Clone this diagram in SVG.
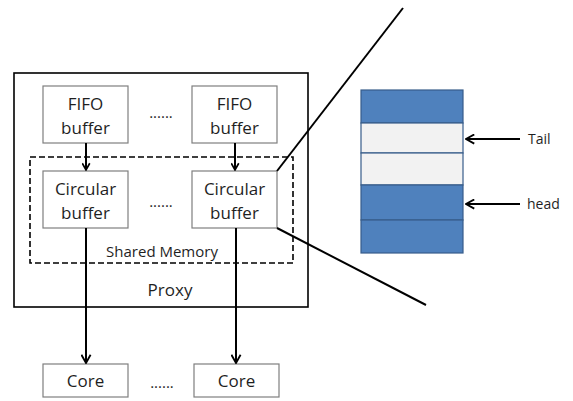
<svg xmlns="http://www.w3.org/2000/svg" width="573" height="401" viewBox="0 0 573 401">
<defs>
<style>
.box{fill:#fff;stroke:#7f7f7f;stroke-width:1.2}
.t{font-family:"Open Sans","Liberation Sans",sans-serif;font-size:17px;fill:#1f1f1f;text-anchor:middle}
.s{font-family:"Open Sans","Liberation Sans",sans-serif;font-size:14px;fill:#1f1f1f}
.ln{stroke:#000;stroke-width:2;fill:none}
.blue{fill:#4f81bd;stroke:#385d8a;stroke-width:1.2}
.light{fill:#f2f2f2;stroke:#385d8a;stroke-width:1.2}
</style>
<marker id="ah" viewBox="0 0 12 12" refX="11" refY="6" markerWidth="9" markerHeight="9" orient="auto" markerUnits="userSpaceOnUse">
<path d="M2,1 L11,6 L2,11" fill="none" stroke="#000" stroke-width="2.2"/>
</marker>
<marker id="ah2" viewBox="0 0 12 12" refX="11" refY="6" markerWidth="11" markerHeight="11" orient="auto" markerUnits="userSpaceOnUse">
<path d="M2,1 L11,6 L2,11" fill="none" stroke="#000" stroke-width="2"/>
</marker>
</defs>
<rect width="573" height="401" fill="#fff"/>
<g id="proxy">
<rect x="14" y="73" width="294" height="234" fill="none" stroke="#000" stroke-width="1.6"/>
<text class="t" x="170" y="296">Proxy</text>
</g>
<g id="shared-memory">
<rect x="30" y="157" width="263" height="106" fill="none" stroke="#000" stroke-width="1.6" stroke-dasharray="6,3"/>
<text class="t" x="162" y="257" style="font-size:15px">Shared Memory</text>
</g>
<g id="fifo1"><rect class="box" x="43" y="86" width="85" height="57"/><text class="t" x="85.5" y="110">FIFO</text><text class="t" x="85.5" y="134">buffer</text></g>
<g id="fifo2"><rect class="box" x="192" y="86" width="85" height="57"/><text class="t" x="234.5" y="110">FIFO</text><text class="t" x="234.5" y="134">buffer</text></g>
<g id="circ1"><rect class="box" x="43" y="171" width="85" height="57"/><text class="t" x="85.5" y="195">Circular</text><text class="t" x="85.5" y="219">buffer</text></g>
<g id="circ2"><rect class="box" x="192" y="171" width="85" height="57"/><text class="t" x="234.5" y="195">Circular</text><text class="t" x="234.5" y="219">buffer</text></g>
<g id="core1"><rect class="box" x="43" y="364" width="85" height="33"/><text class="t" x="85.5" y="387">Core</text></g>
<g id="core2"><rect class="box" x="194" y="364" width="85" height="33"/><text class="t" x="236.5" y="387">Core</text></g>
<g id="dots">
<text class="t" x="161" y="118" style="font-size:15px">......</text>
<text class="t" x="161" y="207" style="font-size:15px">......</text>
<text class="t" x="162" y="388" style="font-size:15px">......</text>
</g>
<g id="ring-buffer">
<rect class="blue" x="361" y="90" width="102" height="33"/>
<rect class="light" x="361" y="123" width="102" height="30"/>
<rect class="light" x="361" y="153" width="102" height="32"/>
<rect class="blue" x="361" y="185" width="102" height="35"/>
<rect class="blue" x="361" y="220" width="102" height="33"/>
</g>
<g id="labels">
<text class="s" x="528" y="144">Tail</text>
<text class="s" x="527" y="209">head</text>
</g>
<g id="connectors">
<line class="ln" x1="86" y1="143" x2="86" y2="170" marker-end="url(#ah)"/>
<line class="ln" x1="235" y1="143" x2="235" y2="170" marker-end="url(#ah)"/>
<line class="ln" x1="86" y1="228" x2="86" y2="363" marker-end="url(#ah2)"/>
<line class="ln" x1="236" y1="228" x2="236" y2="363" marker-end="url(#ah2)"/>
<line class="ln" x1="520" y1="139" x2="466" y2="139" marker-end="url(#ah2)"/>
<line class="ln" x1="520" y1="204" x2="466" y2="204" marker-end="url(#ah2)"/>
<line class="ln" x1="277" y1="171" x2="403" y2="8"/>
<line class="ln" x1="277" y1="228" x2="426" y2="305"/>
</g>
</svg>
